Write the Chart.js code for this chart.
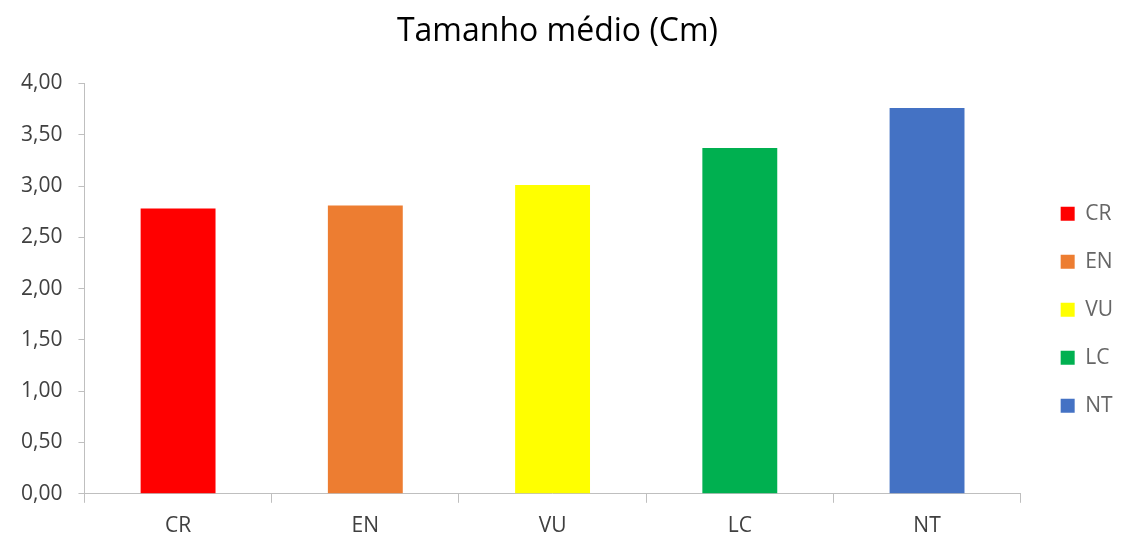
<!DOCTYPE html>
<html>
<head>
<meta charset="utf-8">
<script src="https://cdn.jsdelivr.net/npm/chart.js@4/dist/chart.umd.min.js"></script>
<style>
  html, body { margin: 0; padding: 0; background: #fff; }
  #wrap { width: 1122px; height: 538px; }
</style>
</head>
<body>
<div id="wrap"><canvas id="myChart"></canvas></div>
<script>
// categorias e valores
const labels = ['CR', 'EN', 'VU', 'LC', 'NT'];
const tamanhos = [2.78, 2.81, 3.01, 3.37, 3.76];
const cores = ['#ff0000', '#ed7d31', '#ffff00', '#00b050', '#4472c4'];
const yTicks = [0, 0.5, 1, 1.5, 2, 2.5, 3, 3.5, 4];

const fonte = "'Open Sans', 'Noto Sans', sans-serif";
const corTexto = '#404040';
const corEixo = '#bfbfbf';

// empurra a legenda um pouco para a direita (como no original)
const legendaShift = {
  id: 'legendaShift',
  afterLayout(chart) {
    if (chart.legend) {
      chart.legend.left += 13;
      chart.legend.right += 13;
    }
  }
};

const data = {
  labels: labels,
  datasets: [{
    label: 'Tamanho médio (Cm)',
    data: tamanhos,
    backgroundColor: cores,
    borderWidth: 0,
    categoryPercentage: 1,
    barPercentage: 0.4
  }]
};

const config = {
  type: 'bar',
  data: data,
  plugins: [legendaShift],
  options: {
    responsive: true,
    maintainAspectRatio: false,
    animation: false,
    layout: {
      padding: { left: 5, right: 12, top: 7, bottom: -12 }
    },
    plugins: {
      title: {
        display: true,
        text: 'Tamanho médio (Cm)',
        color: '#000',
        font: { family: fonte, size: 32, weight: 'normal' },
        padding: { top: 6, bottom: 32 }
      },
      legend: {
        position: 'right',
        title: { display: true, text: '', padding: 24 },
        labels: {
          color: corTexto,
          font: { family: fonte, size: 21 },
          boxWidth: 14,
          boxHeight: 14,
          padding: 27,
          generateLabels: (chart) => labels.map((l, i) => ({
            text: l,
            fillStyle: cores[i],
            strokeStyle: cores[i],
            lineWidth: 0,
            hidden: false,
            index: i
          }))
        },
        onClick: () => {}
      },
      tooltip: { enabled: false }
    },
    scales: {
      x: {
        offset: true,
        grid: {
          display: true,
          drawOnChartArea: false,
          drawTicks: true,
          tickLength: 9,
          color: corEixo,
          offset: true
        },
        border: { display: true, color: corEixo },
        ticks: {
          color: corTexto,
          font: { family: fonte, size: 21 },
          padding: 11
        }
      },
      y: {
        min: 0,
        max: 4,
        afterBuildTicks: (axis) => { axis.ticks = yTicks.map(v => ({ value: v })); },
        grid: {
          display: true,
          drawOnChartArea: false,
          drawTicks: true,
          tickLength: 6,
          color: corEixo
        },
        border: { display: true, color: corEixo },
        ticks: {
          color: corTexto,
          font: { family: fonte, size: 21 },
          padding: 16,
          callback: (v) => Number(v).toFixed(2).replace('.', ',')
        }
      }
    }
  }
};

const myChart = new Chart(document.getElementById('myChart'), config);
</script>
</body>
</html>
